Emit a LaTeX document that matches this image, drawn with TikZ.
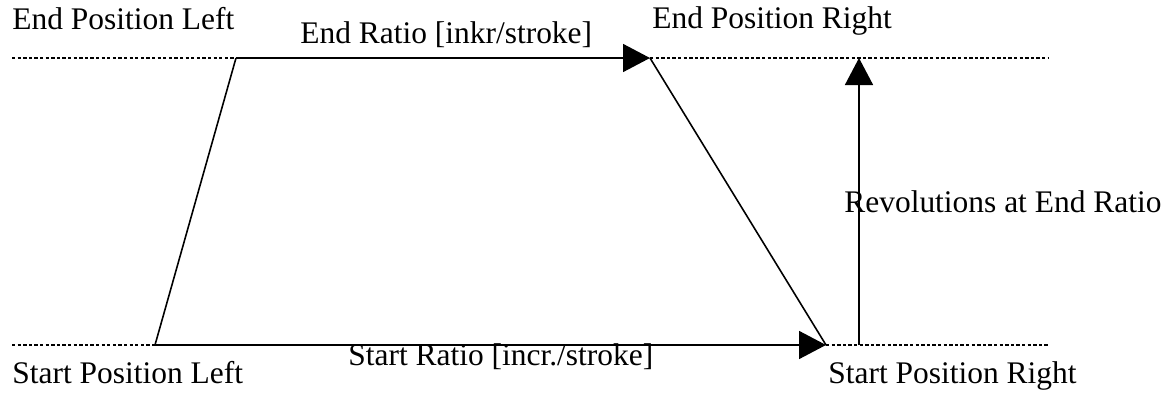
\documentclass[tikz,border=0pt]{standalone}
\usepackage{fontspec}
\setmainfont{Liberation Serif}
\usetikzlibrary{arrows.meta}

\begin{document}
\begin{tikzpicture}[
    lbl/.style={anchor=base west, inner sep=0pt, font=\fontsize{17.9}{21}\selectfont},
    guide/.style={line width=0.7pt, dash pattern=on 0.066cm off 0.046cm},
    edge/.style={line width=0.9pt},
    arr/.style={line width=0.9pt, -{Triangle[length=0.54cm, width=0.56cm]}}
  ]
                    \useasboundingbox (0, 0) rectangle (23.46, 7.84);
                    \coordinate (tl) at (4.72, 6.68);
                    \coordinate (tr) at (13.0, 6.68);
                    \coordinate (bl) at (3.10, 0.94);
                    \coordinate (br) at (16.52, 0.94);
                    \coordinate (rb) at (17.18, 0.94);
                    \coordinate (rt) at (17.18, 6.68);
                    \coordinate (gtl) at (0.24, 6.68);
                    \coordinate (gtr) at (20.98, 6.68);
                    \coordinate (gbl) at (0.24, 0.94);
                    \coordinate (gbr) at (20.98, 0.94);

                    \draw [guide] (gtl) -- (tl);
                    \draw [guide] (tr) -- (gtr);
                    \draw [guide] (gbl) -- (bl);
                    \draw [guide] (br) -- (gbr);

                    \draw [edge] (bl) -- (tl);
                    \draw [edge] (tr) -- (br);
                    \draw [arr] (tl) -- (tr);
                    \draw [arr] (bl) -- (br);
                    \draw [arr] (rb) -- (rt);

                    \node [lbl] (epl) at (0.24, 7.25) {End Position Left};
                    \node [lbl] (er) at (6.0, 6.98) {End Ratio [inkr/stroke]};
                    \node [lbl] (epr) at (13.04, 7.28) {End Position Right};
                    \node [lbl] (rev) at (16.88, 3.6) {Revolutions at End Ratio};
                    \node [lbl] (spl) at (0.24, 0.18) {Start Position Left};
                    \node [lbl] (sr) at (6.96, 0.54) {Start Ratio [incr./stroke]};
                    \node [lbl] (spr) at (16.56, 0.18) {Start Position Right};
\end{tikzpicture}
\end{document}
